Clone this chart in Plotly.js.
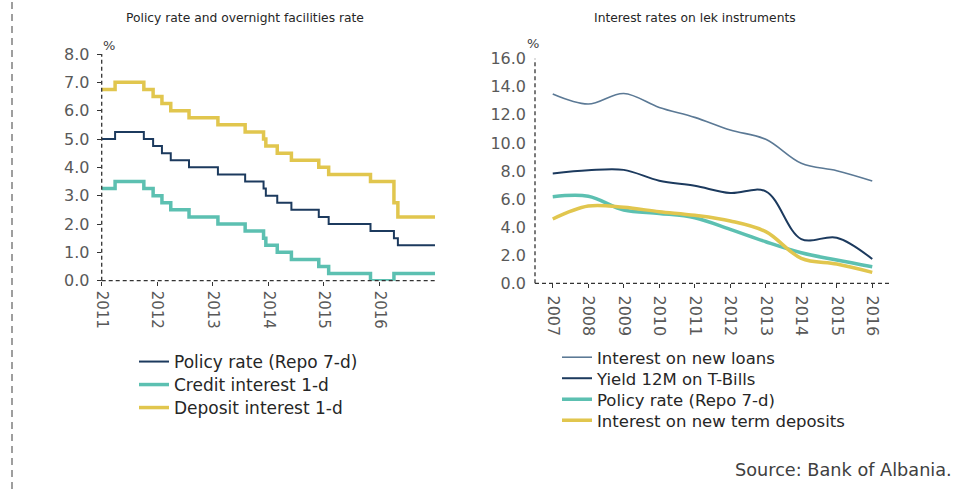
<!DOCTYPE html>
<html>
<head>
<meta charset="utf-8">
<script src="https://cdn.plot.ly/plotly-3.0.1.min.js"></script>
<style>html,body{margin:0;padding:0;background:#fff;}#chart{width:954px;height:489px;}</style>
</head>
<body>
<div id="chart"></div>
<script>
// ---------- Left chart: policy rate and overnight facilities (step series) ----------
const stepDates = ["2011-01-01","2011-03-30","2011-10-05","2011-12-05","2012-02-01","2012-03-30","2012-07-28",
  "2013-02-03","2013-08-01","2013-11-30","2013-12-15","2014-02-28","2014-06-01","2014-11-28","2015-02-01",
  "2015-11-03","2016-04-05","2016-05-01","2016-12-31"];
const policyRate   = [5.0,5.25,5.0,4.75,4.5,4.25,4.0,3.75,3.5,3.25,3.0,2.75,2.5,2.25,2.0,1.75,1.5,1.25,1.25];
const creditRate   = [3.25,3.5,3.25,3.0,2.75,2.5,2.25,2.0,1.75,1.5,1.25,1.0,0.75,0.5,0.25,0.0,0.25,0.25,0.25];
const depositRate  = [6.75,7.0,6.75,6.5,6.25,6.0,5.75,5.5,5.25,5.0,4.75,4.5,4.25,4.0,3.75,3.5,2.75,2.25,2.25];
const leftTickYears = ["2011-01-01","2012-01-01","2013-01-01","2014-01-01","2015-01-01","2016-01-01"];
const leftTickText  = ["2011","2012","2013","2014","2015","2016"];
const leftYTicks = [0,1,2,3,4,5,6,7,8];

// ---------- Right chart: interest rates on lek instruments ----------
const years = ["2007","2008","2009","2010","2011","2012","2013","2014","2015","2016"];
const newLoans     = [13.48,12.77,13.52,12.53,11.82,10.92,10.26,8.55,8.02,7.29];
const tBills12M    = [7.83,8.05,8.08,7.31,6.95,6.43,6.55,3.15,3.25,1.73];
const policyAnnual = [6.17,6.2,5.22,4.98,4.67,3.84,2.96,2.18,1.66,1.18];
const termDeposits = [4.58,5.5,5.41,5.1,4.84,4.44,3.68,1.78,1.37,0.78];
const rightYTicks = [0,2,4,6,8,10,12,14,16];

const FONT = "DejaVu Sans";
const navy = "#1c3a5e", teal = "#5cc0b1", yellow = "#e1c64e", slate = "#5b7995";

const traces = [
  {x: stepDates, y: policyRate, name: "Policy rate (Repo 7-d)", type: "scatter", mode: "lines",
   line: {shape: "hv", color: navy, width: 2}, xaxis: "x", yaxis: "y", legend: "legend"},
  {x: stepDates, y: creditRate, name: "Credit interest 1-d", type: "scatter", mode: "lines",
   line: {shape: "hv", color: teal, width: 3.5}, xaxis: "x", yaxis: "y", legend: "legend2"},
  {x: stepDates, y: depositRate, name: "Deposit interest 1-d", type: "scatter", mode: "lines",
   line: {shape: "hv", color: yellow, width: 3.5}, xaxis: "x", yaxis: "y", legend: "legend3"},
  {x: years, y: newLoans, name: "Interest on new loans", type: "scatter", mode: "lines",
   line: {shape: "spline", smoothing: 1, color: slate, width: 1.6}, xaxis: "x2", yaxis: "y2", legend: "legend4"},
  {x: years, y: tBills12M, name: "Yield 12M on T-Bills", type: "scatter", mode: "lines",
   line: {shape: "spline", smoothing: 1, color: navy, width: 2}, xaxis: "x2", yaxis: "y2", legend: "legend5"},
  {x: years, y: policyAnnual, name: "Policy rate (Repo 7-d)", type: "scatter", mode: "lines",
   line: {shape: "spline", smoothing: 1, color: teal, width: 3.5}, xaxis: "x2", yaxis: "y2", legend: "legend6"},
  {x: years, y: termDeposits, name: "Interest on new term deposits", type: "scatter", mode: "lines",
   line: {shape: "spline", smoothing: 1, color: yellow, width: 3.5}, xaxis: "x2", yaxis: "y2", legend: "legend7"}
];

const W = 954, H = 489;
const px = v => v / W, py = v => 1 - v / H;
const tickFont = {family: FONT, size: 16, color: "#595959"};
const dashAxis = {color: "#333333", width: 1.3, dash: "4px,3px"};

function leg(xLeft, rowCenter, size) {
  return {x: px(xLeft), y: py(rowCenter - 18), xanchor: "left", yanchor: "top", bgcolor: "rgba(0,0,0,0)",
    font: {family: FONT, size: size, color: "#262626"}, tracegroupgap: 0};
}

const layout = {
  width: W, height: H,
  margin: {l: 0, r: 0, t: 0, b: 0},
  paper_bgcolor: "#ffffff", plot_bgcolor: "rgba(0,0,0,0)",
  font: {family: FONT, color: "#262626"},
  showlegend: true,
  xaxis: {domain: [px(101.7), px(435)], type: "date", range: ["2011-01-01","2016-12-31"],
    tickvals: leftTickYears, ticktext: leftTickText, tickangle: 90, tickfont: {family: FONT, size: 15, color: "#595959"},
    ticks: "outside", ticklen: 4, tickcolor: "#333", showgrid: false, zeroline: false, showline: false,
    ticklabelstandoff: 2, anchor: "y"},
  yaxis: {domain: [py(280.7), py(54)], range: [0, 8], tickvals: leftYTicks, tickformat: ".1f", tickfont: tickFont,
    ticks: "outside", ticklen: 4, tickcolor: "#333", showgrid: false, zeroline: false, showline: false,
    ticklabelstandoff: 4, anchor: "x"},
  xaxis2: {domain: [px(535), px(890)], type: "category", range: [-0.5, 9.5], tickangle: 90,
    tickfont: tickFont, ticks: "outside", ticklen: 4, tickcolor: "#333", showgrid: false, zeroline: false,
    showline: false, ticklabelstandoff: 4, anchor: "y2"},
  yaxis2: {domain: [py(283.3), py(58.7)], range: [0, 16], tickvals: rightYTicks, tickformat: ".1f", tickfont: tickFont,
    ticks: "", showgrid: false, zeroline: false, showline: false, ticklabelstandoff: 8, anchor: "x2"},
  legend:  leg(134, 362, 17),
  legend2: leg(134, 385, 17),
  legend3: leg(134, 408, 17),
  legend4: leg(557, 358, 16.5),
  legend5: leg(557, 379, 16.5),
  legend6: leg(557, 400, 16.5),
  legend7: leg(557, 421, 16.5),
  shapes: [
    {type: "line", xref: "x domain", yref: "y domain", x0: 0, x1: 0, y0: 0, y1: 1, line: dashAxis},
    {type: "line", xref: "x domain", yref: "y domain", x0: 0, x1: 1, y0: 0, y1: 0, line: dashAxis},
    {type: "line", xref: "x2 domain", yref: "y2 domain", x0: 0, x1: 0, y0: 0, y1: 1, line: dashAxis},
    {type: "line", xref: "x2 domain", yref: "y2 domain", x0: 0, x1: 1, y0: 0, y1: 0, line: dashAxis},
    {type: "line", xref: "paper", yref: "paper", x0: px(12), x1: px(12), y0: 0, y1: 1,
     line: {color: "#7f7f7f", width: 1.5, dash: "7px,5px"}}
  ],
  annotations: [
    {xref: "paper", yref: "paper", x: px(245), y: py(18), text: "Policy rate and overnight facilities rate",
     showarrow: false, xanchor: "center", yanchor: "middle", font: {family: FONT, size: 12.3, color: "#262626"}},
    {xref: "paper", yref: "paper", x: px(695), y: py(18), text: "Interest rates on lek instruments",
     showarrow: false, xanchor: "center", yanchor: "middle", font: {family: FONT, size: 12.3, color: "#262626"}},
    {xref: "paper", yref: "paper", x: px(109), y: py(45), text: "%", showarrow: false,
     xanchor: "center", yanchor: "middle", font: {family: FONT, size: 13, color: "#404040"}},
    {xref: "paper", yref: "paper", x: px(533), y: py(43), text: "%", showarrow: false,
     xanchor: "center", yanchor: "middle", font: {family: FONT, size: 13, color: "#404040"}},
    {xref: "paper", yref: "paper", x: 1, y: py(470), text: "Source: Bank of Albania.", showarrow: false,
     xanchor: "right", yanchor: "middle", xshift: 0, font: {family: FONT, size: 17.7, color: "#404040"}}
  ]
};

Plotly.newPlot("chart", traces, layout, {displayModeBar: false, staticPlot: true});
</script>
</body>
</html>
